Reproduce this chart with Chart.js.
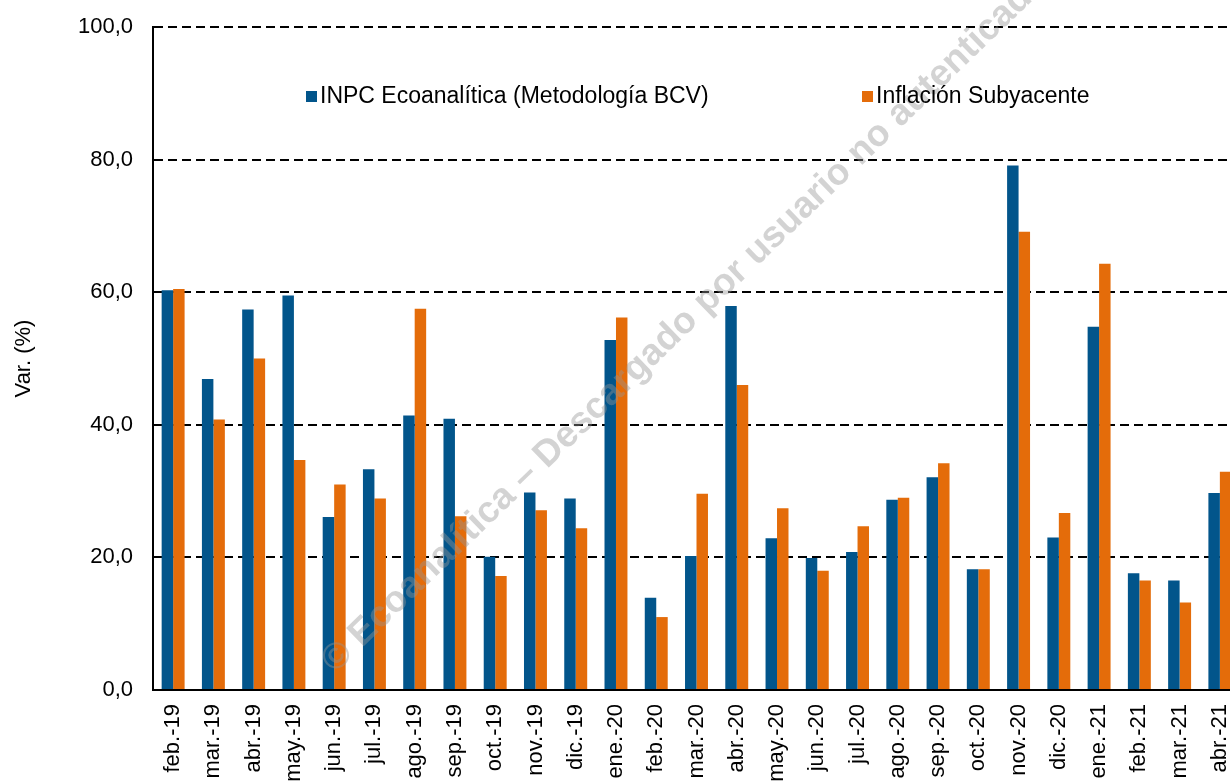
<!DOCTYPE html>
<html>
<head>
<meta charset="utf-8">
<script src="https://cdn.jsdelivr.net/npm/chart.js@4.4.4/dist/chart.umd.min.js"></script>
<style>
  html, body { margin: 0; padding: 0; background: #fff; overflow: hidden; }
  canvas { display: block; }
</style>
</head>
<body>
<canvas id="chart" width="1250" height="781"></canvas>
<script>
const months = ['feb.-19', 'mar.-19', 'abr.-19', 'may.-19', 'jun.-19', 'jul.-19', 'ago.-19', 'sep.-19',
    'oct.-19', 'nov.-19', 'dic.-19', 'ene.-20', 'feb.-20', 'mar.-20', 'abr.-20', 'may.-20', 'jun.-20',
    'jul.-20', 'ago.-20', 'sep.-20', 'oct.-20', 'nov.-20', 'dic.-20', 'ene.-21', 'feb.-21', 'mar.-21', 'abr.-21'];

const inpc = [60.3, 46.9, 57.4, 59.5, 26.1, 33.3, 41.4, 40.9, 20.1, 29.8, 28.9, 52.8, 13.9, 20.2,
    57.9, 22.9, 19.9, 20.8, 28.7, 32.1, 18.2, 79.1, 23.0, 54.8, 17.6, 16.5, 29.7];

const subyacente = [60.5, 40.8, 50.0, 34.7, 31.0, 28.9, 57.5, 26.2, 17.2, 27.1, 24.4, 56.2, 11.0, 29.6,
    46.0, 27.4, 18.0, 24.7, 29.0, 34.2, 18.2, 69.1, 26.7, 64.3, 16.5, 13.2, 32.9];

const seriesNames = ['INPC Ecoanalítica (Metodología BCV)', 'Inflación Subyacente'];
const seriesColors = ['#02558B', '#E46C0A'];
const yMin = 0;
const yMax = 100;
const yStep = 20;

Chart.defaults.font.family = 'Arial, "Liberation Sans", sans-serif';
Chart.defaults.color = '#000';

// legend drawn inside the plot, items far apart like the original
const insideLegend = {
    id: 'insideLegend',
    afterDraw(chart) {
        const ctx = chart.ctx;
        const y = chart.chartArea.top + 69;
        const xs = [306, 862];
        ctx.save();
        ctx.font = '23px Arial, "Liberation Sans", sans-serif';
        ctx.textBaseline = 'middle';
        ctx.textAlign = 'left';
        seriesNames.forEach((name, i) => {
            ctx.fillStyle = seriesColors[i];
            ctx.fillRect(xs[i], y - 5, 11, 11);
            ctx.fillStyle = '#000';
            ctx.fillText(name, xs[i] + 14, y + 1);
        });
        ctx.restore();
    }
};

// translucent diagonal watermark over the bars
const watermark = {
    id: 'watermark',
    afterDatasetsDraw(chart) {
        const ctx = chart.ctx;
        ctx.save();
        ctx.translate(335, 674);
        ctx.rotate(-44 * Math.PI / 180);
        ctx.font = 'bold 37px Arial, "Liberation Sans", sans-serif';
        ctx.fillStyle = 'rgba(150, 150, 150, 0.42)';
        ctx.fillText('© Ecoanalítica – Descargado por usuario no autenticado', 0, 0);
        ctx.restore();
    }
};

const data = {
    labels: months,
    datasets: [
        {
            label: seriesNames[0],
            data: inpc,
            backgroundColor: seriesColors[0],
            borderWidth: 0,
            categoryPercentage: 0.57,
            barPercentage: 1.0
        },
        {
            label: seriesNames[1],
            data: subyacente,
            backgroundColor: seriesColors[1],
            borderWidth: 0,
            categoryPercentage: 0.57,
            barPercentage: 1.0
        }
    ]
};

const options = {
    responsive: false,
    animation: false,
    devicePixelRatio: 1,
    layout: {
        padding: { left: 0, right: 10, top: 27, bottom: 0 }
    },
    plugins: {
        legend: { display: false },
        tooltip: { enabled: false }
    },
    scales: {
        x: {
            afterFit(scale) {
                scale.height = 91;
                scale.paddingLeft = 0;
                scale.paddingRight = 0;
            },
            grid: { display: false, drawTicks: false },
            border: { display: true, color: '#000', width: 2 },
            ticks: {
                autoSkip: false,
                minRotation: 90,
                maxRotation: 90,
                padding: 14,
                color: '#000',
                font: { size: 22 }
            }
        },
        y: {
            min: yMin,
            max: yMax,
            afterFit(scale) {
                scale.width = 153;
                scale.paddingTop = 0;
                scale.paddingBottom = 0;
            },
            grid: { color: '#000', lineWidth: 2, drawTicks: false },
            border: { display: true, color: '#000', width: 2, dash: [9, 5] },
            ticks: {
                stepSize: yStep,
                padding: 20,
                color: '#000',
                font: { size: 22 },
                callback: v => v.toFixed(1).replace('.', ',')
            },
            title: {
                display: true,
                text: 'Var. (%)',
                color: '#000',
                font: { size: 22 },
                padding: { top: 11, bottom: 0 }
            }
        }
    }
};

new Chart(document.getElementById('chart'), { type: 'bar', data, options, plugins: [watermark, insideLegend] });
</script>
</body>
</html>
